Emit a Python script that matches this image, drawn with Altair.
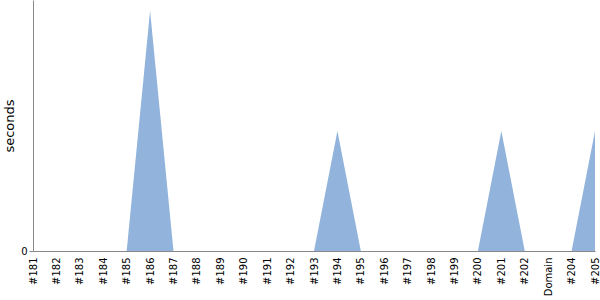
import altair as alt
import pandas as pd

builds = ["#181", "#182", "#183", "#184", "#185", "#186", "#187", "#188", "#189", "#190",
          "#191", "#192", "#193", "#194", "#195", "#196", "#197", "#198", "#199", "#200",
          "#201", "#202", "Domain", "#204", "#205"]
seconds = [0, 0, 0, 0, 0, 2.0, 0, 0, 0, 0,
           0, 0, 0, 1.0, 0, 0, 0, 0, 0, 0,
           1.0, 0, 0, 0, 1.0]

df = pd.DataFrame({"build": builds, "seconds": seconds, "order": range(len(builds))})

chart = alt.Chart(df).mark_area(color="#92b4dc", opacity=1, line=False).encode(
    x=alt.X("build:N", sort=builds, scale=alt.Scale(type="point", padding=0),
            axis=alt.Axis(title=None, labelAngle=270, labelFontSize=10, labelColor="#000",
                          domainColor="#888", ticks=False, labelPadding=6,
                          labelFont="DejaVu Sans", grid=False)),
    y=alt.Y("seconds:Q", scale=alt.Scale(domain=[0, 2.09], nice=False),
            axis=alt.Axis(title="seconds", values=[0], labelFontSize=10, labelColor="#000",
                          titleFontSize=13, titleFontWeight="normal", titleColor="#000",
                          domainColor="#888", tickColor="#888", tickSize=4, grid=False,
                          labelFont="DejaVu Sans", titleFont="DejaVu Sans", titlePadding=4)),
    order="order:Q",
).properties(
    width=562, height=251,
    autosize=alt.AutoSizeParams(type="none"),
    padding={"left": 33, "top": 0, "right": 5, "bottom": 49},
).configure_view(stroke=None)

chart.save("out.html", embed_options={"renderer": "svg", "actions": False})
